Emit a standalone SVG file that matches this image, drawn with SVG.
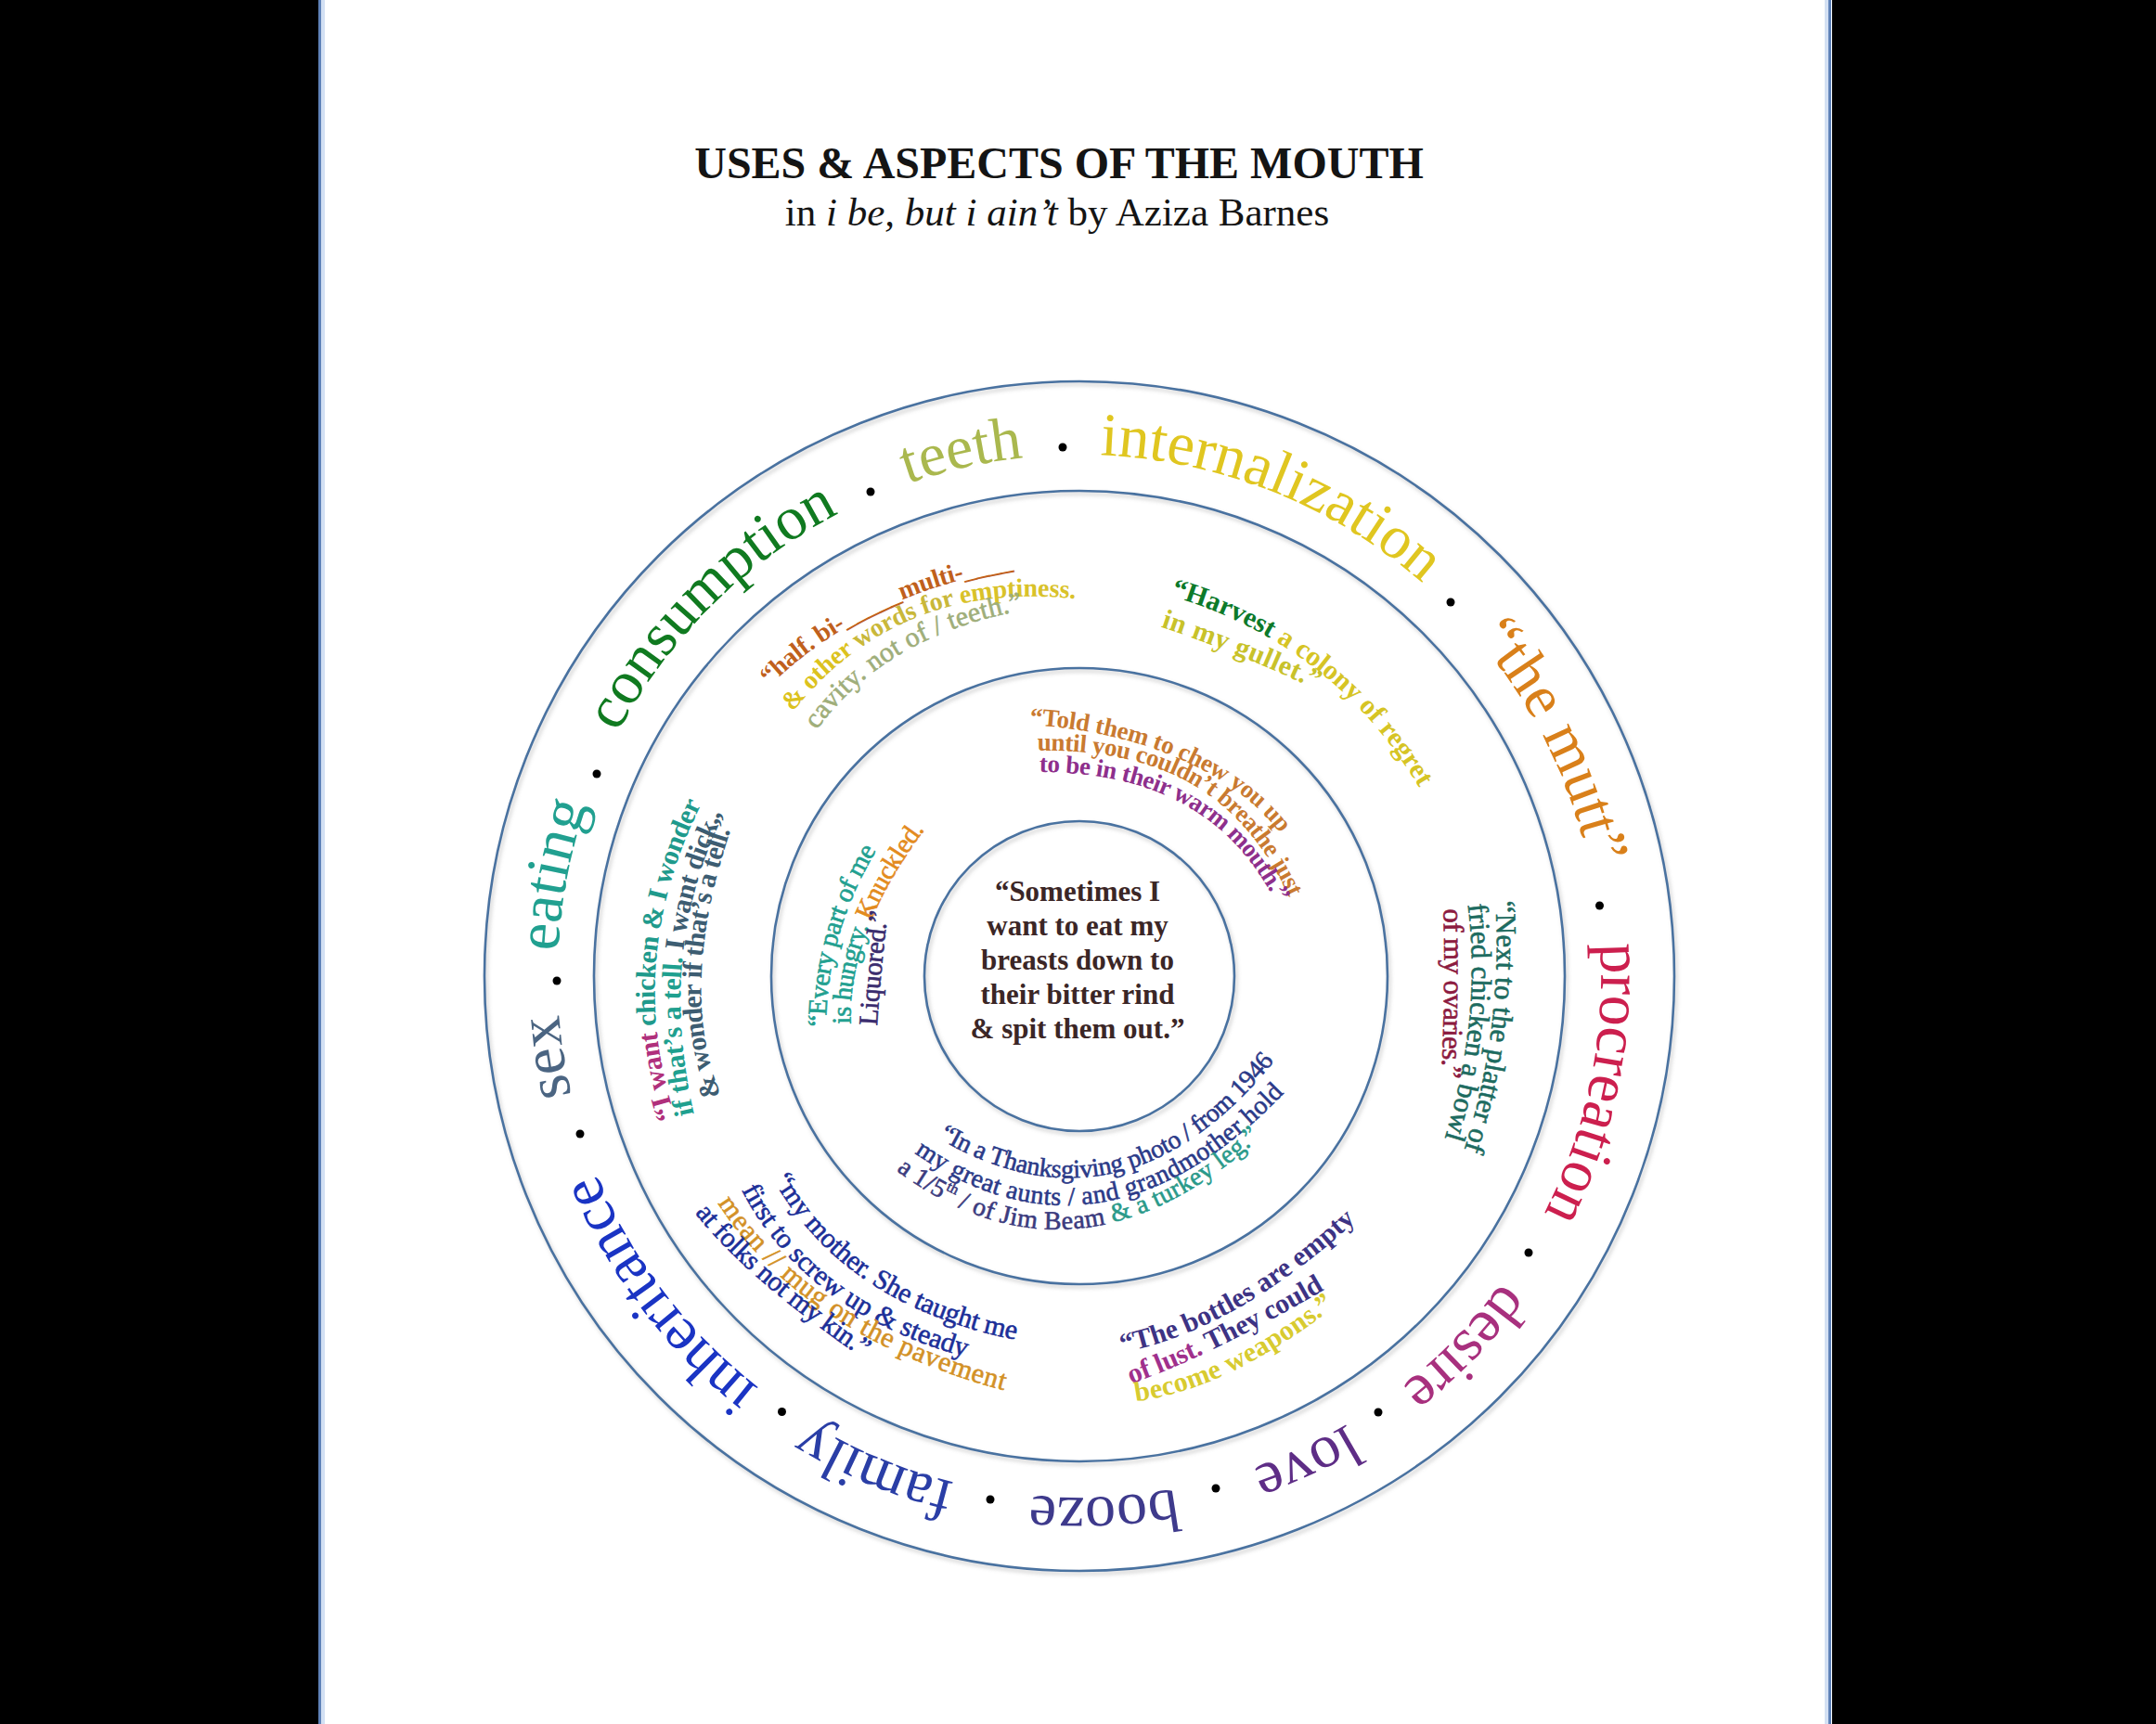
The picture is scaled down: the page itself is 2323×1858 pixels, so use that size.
<svg xmlns="http://www.w3.org/2000/svg" width="2323" height="1858" viewBox="0 0 2323 1858">
<defs>
<style>
text{font-family:"Liberation Serif","Times New Roman",serif}
.ring{fill:none;stroke:#4a72a0;stroke-width:2.6}
.ow{font-size:66px}
.q{dominant-baseline:middle}
.b{font-weight:bold;stroke-width:0}
.r{stroke-width:0.6}
.dot{fill:#000}
</style>
<filter id="sh" x="-10%" y="-10%" width="120%" height="120%">
<feDropShadow dx="2" dy="3" stdDeviation="2" flood-color="#888" flood-opacity="0.45"/>
</filter>
<path id="pRing" d="M1163,490 A562,562 0 1 1 1163,1614 A562,562 0 1 1 1163,490"/>
<path id="a1" d="M822,738 Q926,634 1096,606"/>
<path id="a2" d="M846,768 Q964.5,616 1165,640"/>
<path id="a3" d="M872,786 Q947.5,678 1105,650"/>
<path id="b1" d="M1258,634 Q1442,686 1538,850"/>
<path id="b2" d="M1250,668 Q1337,697 1424,738"/>
<path id="c1" d="M723,1212 Q662.5,1035 752,858"/>
<path id="c2" d="M742,1207 Q700,1029.5 770,882"/>
<path id="c3" d="M772,1187 Q718.5,1063.5 787,874"/>
<path id="d1" d="M1618,967 Q1627.5,1110 1583,1245"/>
<path id="d2" d="M1588,970 Q1605,1098.5 1562,1233"/>
<path id="d3" d="M1562,977 Q1565,1053 1560,1165"/>
<path id="e1" d="M837,1263 Q911,1401.5 1101,1438"/>
<path id="e2" d="M803,1275 Q871,1410 1047,1457"/>
<path id="e3" d="M776,1288 Q869.5,1435.5 1089,1493"/>
<path id="e4" d="M752,1300 Q809.5,1374 937,1460"/>
<path id="f1" d="M1203,1452 Q1328.5,1428.5 1460,1307"/>
<path id="f2" d="M1213,1486 Q1300,1456 1427,1382"/>
<path id="f3" d="M1219,1504 Q1320,1492 1437,1400"/>
<path id="g1" d="M1105,775 C1215,780 1330,820 1387,898"/>
<path id="g2" d="M1112,803 C1240,800 1340,840 1397,970"/>
<path id="g3" d="M1115,826 C1230,826 1325,860 1383,975"/>
<path id="h1" d="M883,1110 Q882.5,1004 940,910"/>
<path id="h2" d="M910,1107 Q904.5,1003 993,887"/>
<path id="h3" d="M938,1107 Q942,1042.5 950,980"/>
<path id="i1" d="M1008,1218 Q1209.5,1340 1373,1134"/>
<path id="i2" d="M982,1233 Q1184.5,1379.5 1385,1168"/>
<path id="i3" d="M963,1252 Q1158.5,1402 1360,1216"/>
</defs>

<g id="page">
<rect x="0" y="0" width="2323" height="1858" fill="#000"/>
<rect x="343" y="0" width="1631" height="1858" fill="#fff"/>
<rect x="343" y="0" width="3" height="1858" fill="#5f82b8"/>
<rect x="346" y="0" width="4" height="1858" fill="#d3e0f3"/>
<rect x="1970" y="0" width="3" height="1858" fill="#5f82b8"/>
<rect x="1966" y="0" width="4" height="1858" fill="#d3e0f3"/>
</g>

<g id="title">
<text x="1141" y="192" font-size="48" font-weight="bold" text-anchor="middle" fill="#141414">USES &amp; ASPECTS OF THE MOUTH</text>
<text x="1139" y="243" font-size="43" text-anchor="middle" fill="#141414">in <tspan font-style="italic">i be, but i ain’t</tspan> by Aziza Barnes</text>
</g>

<g id="rings" filter="url(#sh)">
<circle class="ring" cx="1163" cy="1052" r="641"/>
<circle class="ring" cx="1163" cy="1052" r="523"/>
<circle class="ring" cx="1163" cy="1052" r="332"/>
<circle class="ring" cx="1163" cy="1052" r="167"/>
</g>

<g id="outer-words" class="ow">
<text text-anchor="middle" fill="#4b6582"><textPath href="#pRing" startOffset="2563">sex</textPath></text>
<text text-anchor="middle" fill="#21a090"><textPath href="#pRing" startOffset="2756">eating</textPath></text>
<text text-anchor="middle" fill="#107a20"><textPath href="#pRing" startOffset="3092">consumption</textPath></text>
<text text-anchor="middle" fill="#aab84e"><textPath href="#pRing" startOffset="3407">teeth</textPath></text>
<text text-anchor="middle" fill="#e0c620"><textPath href="#pRing" startOffset="213">internalization</textPath></text>
<text text-anchor="middle" fill="#d9801a"><textPath href="#pRing" startOffset="624">“the mutt”</textPath></text>
<text text-anchor="middle" fill="#cc1f4e"><textPath href="#pRing" startOffset="998">procreation</textPath></text>
<text text-anchor="middle" fill="#a8307e"><textPath href="#pRing" startOffset="1314">desire</textPath></text>
<text text-anchor="middle" fill="#5e2d86"><textPath href="#pRing" startOffset="1520">love</textPath></text>
<text text-anchor="middle" fill="#3e3a8c"><textPath href="#pRing" startOffset="1740">booze</textPath></text>
<text text-anchor="middle" fill="#2a3ea6"><textPath href="#pRing" startOffset="1987">family</textPath></text>
<text text-anchor="middle" fill="#1a34c4"><textPath href="#pRing" startOffset="2284">inheritance</textPath></text>
</g>

<g id="dots">
<circle class="dot" cx="600" cy="1057" r="4.5"/>
<circle class="dot" cx="643" cy="834" r="4.5"/>
<circle class="dot" cx="938" cy="530" r="4.5"/>
<circle class="dot" cx="1145" cy="482" r="4.5"/>
<circle class="dot" cx="1563" cy="649" r="4.5"/>
<circle class="dot" cx="1723.5" cy="976" r="4.5"/>
<circle class="dot" cx="1647" cy="1350" r="4.5"/>
<circle class="dot" cx="1485" cy="1522" r="4.5"/>
<circle class="dot" cx="1310" cy="1604" r="4.5"/>
<circle class="dot" cx="1067" cy="1616" r="4.5"/>
<circle class="dot" cx="842.5" cy="1521.5" r="4.5"/>
<circle class="dot" cx="625" cy="1222" r="4.5"/>
</g>

<g id="quote-half">
<text class="q b" font-size="28" text-anchor="middle" fill="#c0601c"><textPath href="#a1" startOffset="50%" textLength="300">“half. bi-_____multi-____</textPath></text>
<text class="q b" font-size="28" text-anchor="middle"><textPath href="#a2" startOffset="50%" textLength="350"><tspan fill="#dcc21e">&amp; other </tspan><tspan fill="#c9b83a">words for </tspan><tspan fill="#d9c22a">emptiness.</tspan></textPath></text>
<text class="q r" font-size="30" text-anchor="middle" fill="#9fae7a" stroke="#9fae7a"><textPath href="#a3" startOffset="50%" textLength="269">cavity. not of / teeth.”</textPath></text>
</g>

<g id="quote-harvest">
<text class="q b" font-size="30" text-anchor="middle"><textPath href="#b1" startOffset="50%" textLength="352"><tspan fill="#0c7a2a">“Harvest</tspan><tspan fill="#d6c424"> a colony of regret</tspan></textPath></text>
<text class="q b" font-size="30" text-anchor="middle" fill="#c8c22a"><textPath href="#b2" startOffset="50%" textLength="182">in my gullet.”</textPath></text>
</g>

<g id="quote-chicken">
<text class="q b" font-size="30" text-anchor="middle"><textPath href="#c1" startOffset="50%" textLength="354"><tspan fill="#b0307c">“I want</tspan><tspan fill="#1f9a8c"> chicken &amp; I wonder</tspan></textPath></text>
<text class="q b" font-size="30" text-anchor="middle"><textPath href="#c2" startOffset="50%" textLength="323"><tspan fill="#1fa08f">if that’s a tell.</tspan><tspan fill="#3d5d72"> I want dick</tspan></textPath></text>
<text class="q b" font-size="30" text-anchor="middle" fill="#3d5d72"><textPath href="#c3" startOffset="50%" textLength="311">&amp; wonder if that’s a tell.”</textPath></text>
</g>

<g id="quote-platter">
<text class="q r" font-size="31" text-anchor="middle" fill="#1d6b60" stroke="#1d6b60"><textPath href="#d1" startOffset="50%" textLength="274">“Next to the platter of</textPath></text>
<text class="q r" font-size="31" text-anchor="middle" fill="#1d6b60" stroke="#1d6b60"><textPath href="#d2" startOffset="50%" textLength="258">fried chicken a bowl</textPath></text>
<text class="q r" font-size="31" text-anchor="middle" fill="#8c1b40" stroke="#8c1b40"><textPath href="#d3" startOffset="50%" textLength="183">of my ovaries.”</textPath></text>
</g>

<g id="quote-mother">
<text class="q r" font-size="30" text-anchor="middle" fill="#1c2f98" stroke="#1c2f98"><textPath href="#e1" startOffset="50%" textLength="318">“my mother. She taught me</textPath></text>
<text class="q r" font-size="30" text-anchor="middle" fill="#1c2f98" stroke="#1c2f98"><textPath href="#e2" startOffset="50%" textLength="305">first to screw up &amp; steady</textPath></text>
<text class="q r" font-size="30" text-anchor="middle" fill="#d39126" stroke="#d39126"><textPath href="#e3" startOffset="50%" textLength="372">mean // mug on the pavement</textPath></text>
<text class="q r" font-size="30" text-anchor="middle" fill="#1c2f98" stroke="#1c2f98"><textPath href="#e4" startOffset="50%" textLength="238">at folks not my kin.”</textPath></text>
</g>

<g id="quote-bottles">
<text class="q b" font-size="30" text-anchor="middle" fill="#3d3384"><textPath href="#f1" startOffset="50%" textLength="290">“The bottles are empty</textPath></text>
<text class="q b" font-size="30" text-anchor="middle"><textPath href="#f2" startOffset="50%" textLength="231"><tspan fill="#a0308c">of lust.</tspan><tspan fill="#3d3384"> They could</tspan></textPath></text>
<text class="q b" font-size="30" text-anchor="middle" fill="#d8cb30"><textPath href="#f3" startOffset="50%" textLength="237">become weapons.”</textPath></text>
</g>

<g id="quote-told">
<text class="q b" font-size="27" text-anchor="middle" fill="#c97a30"><textPath href="#g1" startOffset="50%" textLength="308">“Told them to chew you up</textPath></text>
<text class="q b" font-size="27" text-anchor="middle" fill="#c97a30"><textPath href="#g2" startOffset="50%" textLength="343">until you couldn’t breathe just</textPath></text>
<text class="q b" font-size="27" text-anchor="middle" fill="#8e2f8c"><textPath href="#g3" startOffset="50%" textLength="316">to be in their warm mouth.”</textPath></text>
</g>

<g id="quote-every">
<text class="q r" font-size="29" text-anchor="middle" fill="#22a090" stroke="#22a090"><textPath href="#h1" startOffset="50%" textLength="204">“Every part of me</textPath></text>
<text class="q r" font-size="29" text-anchor="middle"><textPath href="#h2" startOffset="50%" textLength="233"><tspan fill="#22a090" stroke="#22a090">is hungry.</tspan><tspan fill="#e38b1e" stroke="#e38b1e"> Knuckled.</tspan></textPath></text>
<text class="q r" font-size="29" text-anchor="middle" fill="#3a2c6e" stroke="#3a2c6e"><textPath href="#h3" startOffset="50%" textLength="124">Liquored.”</textPath></text>
</g>

<g id="quote-thanksgiving">
<text class="q r" font-size="28" text-anchor="middle" fill="#2b3a88" stroke="#2b3a88"><textPath href="#i1" startOffset="50%" textLength="404">“In a Thanksgiving photo / from 1946</textPath></text>
<text class="q r" font-size="28" text-anchor="middle" fill="#2b3a88" stroke="#2b3a88"><textPath href="#i2" startOffset="50%" textLength="439">my great aunts / and grandmother hold</textPath></text>
<text class="q r" font-size="28" text-anchor="middle"><textPath href="#i3" startOffset="50%" textLength="426"><tspan fill="#3b3b7e" stroke="#3b3b7e">a 1/5</tspan><tspan fill="#3b3b7e" stroke="#3b3b7e" font-size="16" dy="-9">th</tspan><tspan fill="#3b3b7e" stroke="#3b3b7e" dy="9"> / of Jim Beam</tspan><tspan fill="#2a9a8a" stroke="#2a9a8a"> &amp; a turkey leg.”</tspan></textPath></text>
</g>

<g id="quote-center" font-size="31" font-weight="bold" fill="#3b2626" text-anchor="middle">
<text x="1161" y="971">“Sometimes I</text>
<text x="1161" y="1008">want to eat my</text>
<text x="1161" y="1045">breasts down to</text>
<text x="1161" y="1082">their bitter rind</text>
<text x="1161" y="1119">&amp; spit them out.”</text>
</g>
</svg>
